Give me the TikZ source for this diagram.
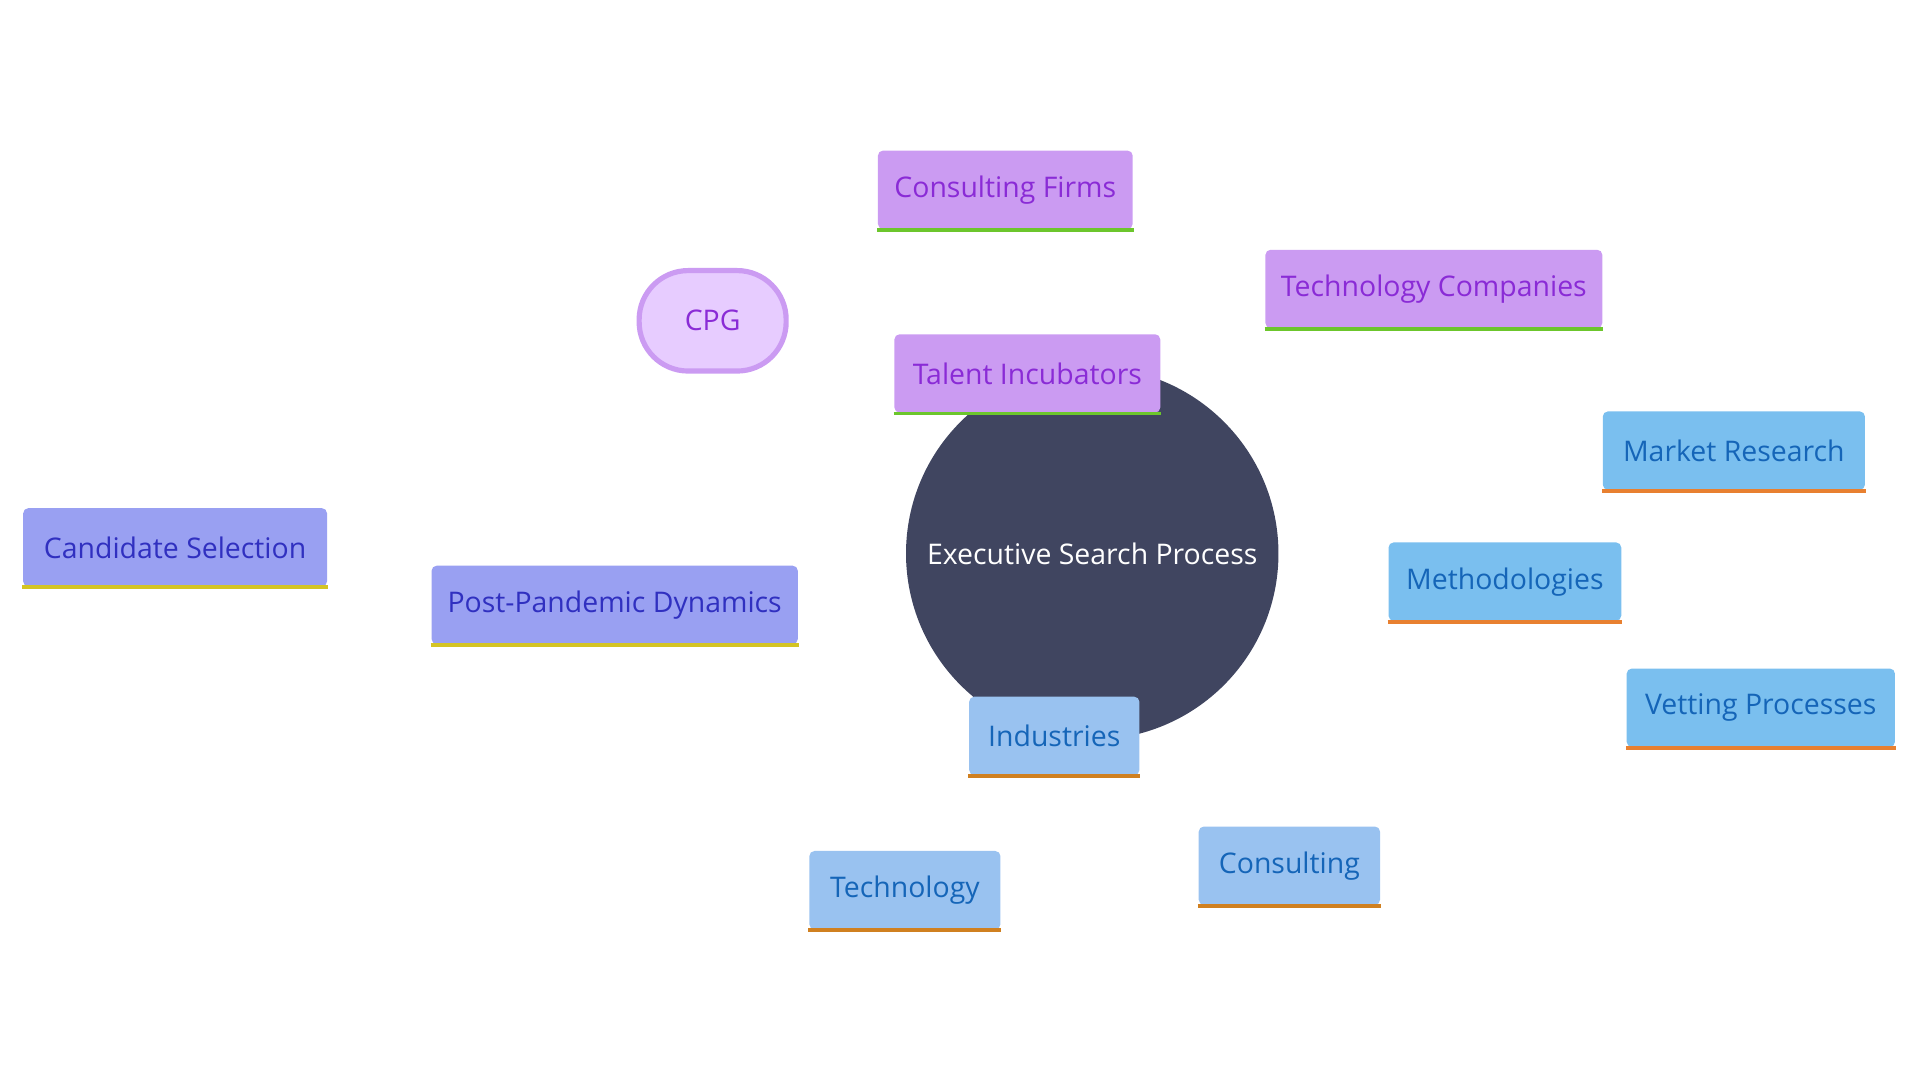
\documentclass[tikz,border=0pt]{standalone}
\usepackage{fontspec}
\setmainfont{Open Sans}
\definecolor{hub}{HTML}{404560}
\definecolor{talfill}{HTML}{CB9BF2}
\definecolor{taltext}{HTML}{8A2BD6}
\definecolor{talbar}{HTML}{6CC62C}
\definecolor{cpgfill}{HTML}{E7CCFF}
\definecolor{metfill}{HTML}{7ABFEF}
\definecolor{mettext}{HTML}{1565B8}
\definecolor{metbar}{HTML}{E88030}
\definecolor{indfill}{HTML}{99C2F0}
\definecolor{indbar}{HTML}{D08020}
\definecolor{postfill}{HTML}{99A0F2}
\definecolor{posttext}{HTML}{3030C0}
\definecolor{postbar}{HTML}{D4C424}
\tikzset{
  leaf/.style={rectangle, rounded corners=1.2pt, minimum height=0.64cm, inner sep=0pt,
    font=\fontsize{6.6}{8}\selectfont,
    append after command={\pgfextra{\let\ln\tikzlastnode}
      (\ln.south west) edge[draw=#1, line width=0.9pt, shorten <=0pt] (\ln.south east)}},
  link/.style={line width=1.1pt}
}
\begin{document}
\begin{tikzpicture}[x=0.01cm, y=-0.01cm]
\useasboundingbox (0,0) rectangle (1568,882);

% hub
\node[circle, fill=hub, minimum size=3.04cm, text=white, font=\fontsize{6.6}{8}\selectfont] (hub) at (892,452) {Executive Search Process};

% first ring
\node[leaf=talbar, fill=talfill, text=taltext, minimum width=2.17cm] (tal) at (839,305) {Talent Incubators};
\node[leaf=metbar, fill=metfill, text=mettext, minimum width=1.90cm] (met) at (1229,475) {Methodologies};
\node[leaf=indbar, fill=indfill, text=mettext, minimum width=1.39cm] (ind) at (861,601) {Industries};
\node[leaf=postbar, fill=postfill, text=posttext, minimum width=2.99cm] (post) at (502,494) {Post-Pandemic Dynamics};

% second ring
\node[leaf=talbar, fill=talfill, text=taltext, minimum width=2.08cm] (firms) at (821,155) {Consulting Firms};
\node[leaf=talbar, fill=talfill, text=taltext, minimum width=2.75cm] (techco) at (1171,236) {Technology Companies};
\node[rounded corners=0.4cm, draw=talfill, line width=1.2pt, fill=cpgfill, text=taltext, minimum width=1.2cm, minimum height=0.82cm, font=\fontsize{6.6}{8}\selectfont] (cpg) at (582,262) {CPG};
\node[leaf=metbar, fill=metfill, text=mettext, minimum width=2.14cm] (market) at (1416,368) {Market Research};
\node[leaf=metbar, fill=metfill, text=mettext, minimum width=2.19cm] (vetting) at (1438,578) {Vetting Processes};
\node[leaf=indbar, fill=indfill, text=mettext, minimum width=1.56cm] (tech) at (739,727) {Technology};
\node[leaf=indbar, fill=indfill, text=mettext, minimum width=1.48cm] (cons) at (1053,707) {Consulting};
\node[leaf=postbar, fill=postfill, text=posttext, minimum width=2.48cm] (cand) at (143,447) {Candidate Selection};

% connectors
\begin{scope}[on background layer/.style={}]
\end{scope}
\end{tikzpicture}
\end{document}
